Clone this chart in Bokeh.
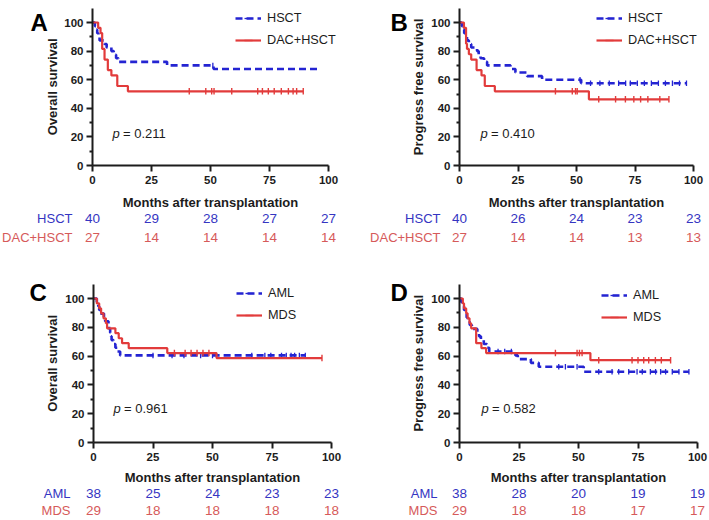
import numpy as np
from bokeh.plotting import figure
from bokeh.layouts import column, row
from bokeh.models import Range1d, FixedTicker, Legend, LegendItem
from bokeh.embed import file_html
from bokeh.resources import INLINE
from bokeh.core.properties import value

# ---------------------------------------------------------------- data
risk_times = [0, 25, 50, 75, 100]
y_ticks = [0, 20, 40, 60, 80, 100]
y_minor = [10, 30, 50, 70, 90]

# A: overall survival, HSCT vs DAC+HSCT
a_hsct_t = [1, 1.5, 2, 2.5, 3, 5, 6, 8, 9, 10, 11, 31.6, 51.3]
a_hsct_s = [97.5, 95, 92.5, 90, 87.5, 85, 82.5, 80, 77.5, 75, 72.5, 70, 67.5]
a_hsct_end = 96
a_hsct_cens = [51.0]
a_dac_t = [2.4, 3.4, 4.1, 5.1, 6.5, 8, 10.5, 15]
a_dac_s = [96.3, 92.6, 81.5, 74.1, 66.7, 63.0, 55.6, 51.9]
a_dac_end = 89.3
a_dac_cens = [41, 48, 50.5, 51.5, 59, 70, 72, 74.5, 77, 80, 83, 85, 86.5, 89.3]
a_hsct_risk = [40, 29, 28, 27, 27]
a_dac_risk = [27, 14, 14, 14, 14]
a_p = "0.211"

# B: progress free survival, HSCT vs DAC+HSCT
b_hsct_t = [1.0, 1.4, 2.0, 2.6, 3.2, 4.0, 5.0, 7.5, 8.2, 9.0, 10.5, 11.8,
            21.8, 23.9, 28.9, 35.3, 52]
b_hsct_s = [97.5, 95, 92.5, 90, 87.5, 85, 82.5, 80, 77.5, 75, 72.5, 70,
            67.5, 65, 62.5, 60, 57.5]
b_hsct_end = 97
b_hsct_cens = [51.5, 56, 60, 64, 68, 71, 73, 76, 79, 82, 85, 88, 91, 94, 97]
b_dac_t = [1.9, 2.8, 3.2, 4.0, 5.0, 7.3, 9.4, 10.8, 15.1, 55.3]
b_dac_s = [96.3, 85.2, 81.5, 77.8, 74.1, 66.7, 63.0, 55.6, 51.9, 46.3]
b_dac_end = 89.5
b_dac_cens = [41, 48.2, 49.6, 50.3, 59.5, 66.7, 70.9, 74.5, 77.4, 80.5, 85.6, 89.5]
b_hsct_risk = [40, 26, 24, 23, 23]
b_dac_risk = [27, 14, 14, 13, 13]
b_p = "0.410"

# C: overall survival, AML vs MDS
c_aml_t = [1.4, 2.0, 2.4, 2.8, 4.4, 4.9, 6.3, 6.6, 7.0, 7.3, 7.6, 8.4, 9.2, 10.0, 11.2]
c_aml_s = [97.4, 94.7, 92.1, 89.5, 86.8, 84.2, 81.6, 78.9, 76.3, 73.7, 71.1,
           68.4, 65.8, 63.2, 60.5]
c_aml_end = 89
c_aml_cens = [25, 33, 38, 45, 50, 66.5, 72, 74.5, 79, 81, 83, 84.5, 86.5, 89]
c_mds_t = [1.4, 2.4, 3.2, 4.2, 5.2, 5.7, 9.2, 10.6, 12, 14.8, 31, 51.7]
c_mds_s = [96.6, 93.1, 89.7, 86.2, 82.8, 79.3, 75.9, 72.4, 69.0, 65.5, 62.1, 58.6]
c_mds_end = 96
c_mds_cens = [34, 38.5, 41, 43.5, 46, 48.5, 96]
c_aml_risk = [38, 25, 24, 23, 23]
c_mds_risk = [29, 18, 18, 18, 18]
c_p = "0.961"

# D: progress free survival, AML vs MDS
d_aml_t = [0.8, 1.4, 1.9, 2.4, 3.0, 3.5, 4.3, 5.2, 7.5, 8.2, 9.0, 10.2, 11.5, 12.5,
           23.5, 24.5, 30, 33.3, 52.2]
d_aml_s = [97.4, 94.7, 92.1, 89.5, 86.8, 84.2, 81.6, 78.9, 76.3, 73.7, 71.1, 68.4,
           65.8, 63.2, 60.5, 57.9, 55.3, 52.6, 49.1]
d_aml_end = 96.4
d_aml_cens = [16.2, 19, 21.8, 41.7, 44.5, 49.4, 58.5, 64.1, 66.9, 71.1, 74.6, 76.8,
              80.2, 82.4, 84.5, 86.6, 89.4, 92.2, 96.4]
d_mds_t = [1.4, 1.9, 2.8, 3.4, 4.2, 4.9, 7, 9.2, 11.2, 55]
d_mds_s = [96.6, 93.1, 89.7, 86.2, 82.8, 79.3, 69.0, 65.5, 62.1, 57.2]
d_mds_end = 88.7
d_mds_cens = [40.3, 49.4, 50.4, 51.5, 58.5, 72.5, 75, 77.4, 79.5, 82.3, 84.8, 88.7]
d_aml_risk = [38, 28, 20, 19, 19]
d_mds_risk = [29, 18, 18, 17, 17]
d_p = "0.582"

x_title = "Months after transplantation"

# ---------------------------------------------------------------- style
FONT = "Liberation Sans"
INK = "#1c1c1c"
BLUE = "#2424d2"
RED = "#e23b3b"
BLUE_TXT = "#3535c2"
RED_TXT = "#d65a5a"
X_END, Y_END = 100, 110


def surv_at(times, surv, t):
    """Value of the Kaplan-Meier step function at time t."""
    s = 100.0
    for ti, si in zip(times, surv):
        if ti <= t:
            s = si
    return s


def group(name, t, s, end, cens, risk, color, txt, dash, lw, tick_size, tick_w):
    return dict(name=name, t=t, s=s, end=end, cens=cens, risk=risk, color=color,
                txt=txt, dash=dash, lw=lw, tick_size=tick_size, tick_w=tick_w)


def blue_group(name, t, s, end, cens, risk):
    return group(name, t, s, end, cens, risk, BLUE, BLUE_TXT, "7 4", 2.6, 5.5, 1.3)


def red_group(name, t, s, end, cens, risk):
    return group(name, t, s, end, cens, risk, RED, RED_TXT, "solid", 2.2, 6.5, 1.4)


def km_panel(spec):
    """One panel: survival curves, axes, legend, p value and number-at-risk rows.

    The plot frame covers the whole panel; the axes sit at x=0 / y=0 so that
    the letter, the axis titles and the risk table live inside the same frame.
    """
    W, H = spec["width"], spec["height"]
    ax0, ax100, ay0, ay100 = spec["axis_px"]   # pixel spots of x=0, x=100, y=0, y=100
    kx = (ax100 - ax0) / 100.0
    ky = (ay0 - ay100) / 100.0

    def dx(px):
        return (px - ax0) / kx

    def dy(py):
        return (ay0 - py) / ky

    p = figure(width=W, height=H, x_range=Range1d(dx(0), dx(W)),
               y_range=Range1d(dy(H), dy(0)), min_border=0, min_border_left=0,
               min_border_right=0, min_border_top=0, min_border_bottom=0,
               output_backend="svg", toolbar_location=None)
    p.outline_line_color = None
    p.grid.visible = False

    xa, ya = p.xaxis[0], p.yaxis[0]
    xa.fixed_location = 0
    ya.fixed_location = 0
    xa.bounds = (0, X_END)
    ya.bounds = (0, Y_END)
    xa.ticker = FixedTicker(ticks=risk_times)
    ya.ticker = FixedTicker(ticks=y_ticks, minor_ticks=y_minor)
    for ax in (xa, ya):
        ax.axis_line_width = 2
        ax.axis_line_color = INK
        ax.major_tick_line_width = 2
        ax.major_tick_line_color = INK
        ax.minor_tick_line_width = 2
        ax.minor_tick_line_color = INK
        ax.major_tick_out = 6
        ax.major_tick_in = 0
        ax.minor_tick_out = 3
        ax.minor_tick_in = 0
        ax.major_label_text_font = FONT
        ax.major_label_text_font_style = "bold"
        ax.major_label_text_font_size = "11.5px"
        ax.major_label_text_color = INK
    xa.major_label_standoff = 4
    ya.major_label_standoff = 3

    # axis titles
    p.text(x=[X_END / 2], y=[dy(spec["xtitle_py"])], text=[x_title], text_align="center",
           text_baseline="middle", text_font=value(FONT), text_font_style="bold",
           text_font_size="13px", text_color=INK)
    p.text(x=[dx(spec["ytitle_px"])], y=[Y_END / 2], text=[spec["ylabel"]], angle=np.pi / 2,
           text_align="center", text_baseline="middle", text_font=value(FONT),
           text_font_style="bold", text_font_size="13px", text_color=INK)

    # survival curves with censor ticks
    items = []
    for g in spec["groups"]:
        xs = [0.0] + g["t"] + [g["end"]]
        ys = [100.0] + g["s"] + [g["s"][-1]]
        line = p.step(xs, ys, mode="after", line_color=g["color"], line_width=g["lw"],
                      line_dash=g["dash"])
        cy = [surv_at(g["t"], g["s"], c) for c in g["cens"]]
        ticks = p.scatter(g["cens"], cy, marker="dash", angle=np.pi / 2, size=g["tick_size"],
                          line_color=g["color"], line_width=g["tick_w"])
        items.append(LegendItem(label=g["name"], renderers=[line, ticks]))

    lx, ly = spec["legend_px"]
    leg = Legend(items=items, location=(lx, H - ly), padding=0, margin=0,
                 spacing=2, glyph_width=26, glyph_height=20, label_height=20,
                 label_standoff=6, label_text_font=FONT, label_text_font_size="12.7px",
                 label_text_color=INK, background_fill_alpha=0, border_line_color=None)
    p.add_layout(leg)

    # log-rank p value
    px_, py_ = spec["p_px"]
    p.text(x=[dx(px_)], y=[dy(py_)], text=["p"], text_font=value(FONT),
           text_font_style="italic", text_font_size="13px", text_baseline="middle",
           text_color=INK)
    p.text(x=[dx(px_)], y=[dy(py_)], text=["= " + spec["pval"]], x_offset=10.5,
           text_font=value(FONT), text_font_size="13px", text_baseline="middle",
           text_color=INK)

    # panel letter
    lpx, lpy = spec["letter_px"]
    p.text(x=[dx(lpx)], y=[dy(lpy)], text=[spec["letter"]], text_font=value(FONT),
           text_font_style="bold", text_font_size="24px", text_color="black",
           text_baseline="alphabetic")

    # number-at-risk rows under the time axis
    for g, ry in zip(spec["groups"], spec["rows_py"]):
        yy = dy(ry)
        p.text(x=[dx(spec["label_right_px"])], y=[yy], text=[g["name"]], text_align="right",
               text_baseline="middle", text_font=value(FONT), text_font_size="13px",
               text_color=g["txt"])
        p.text(x=risk_times, y=[yy] * len(risk_times), text=[str(n) for n in g["risk"]],
               text_align="center", text_baseline="middle", text_font=value(FONT),
               text_font_size="13.5px", text_color=g["txt"])
    return p


panels = [
    dict(letter="A", ylabel="Overall survival", pval=a_p, width=355, height=260,
         axis_px=(92, 328, 165, 22), xtitle_py=202, ytitle_px=52,
         legend_px=(235, 50), p_px=(112, 133), letter_px=(30, 22),
         rows_py=(218, 237), label_right_px=72,
         groups=[blue_group("HSCT", a_hsct_t, a_hsct_s, a_hsct_end, a_hsct_cens, a_hsct_risk),
                 red_group("DAC+HSCT", a_dac_t, a_dac_s, a_dac_end, a_dac_cens, a_dac_risk)]),
    dict(letter="B", ylabel="Progress free survival", pval=b_p, width=354, height=260,
         axis_px=(104, 338, 165, 22), xtitle_py=202, ytitle_px=63,
         legend_px=(241, 50), p_px=(125, 133), letter_px=(35, 22),
         rows_py=(218, 237), label_right_px=85,
         groups=[blue_group("HSCT", b_hsct_t, b_hsct_s, b_hsct_end, b_hsct_cens, b_hsct_risk),
                 red_group("DAC+HSCT", b_dac_t, b_dac_s, b_dac_end, b_dac_cens, b_dac_risk)]),
    dict(letter="C", ylabel="Overall survival", pval=c_p, width=355, height=260,
         axis_px=(93, 331, 182, 38), xtitle_py=217, ytitle_px=52,
         legend_px=(236, 65), p_px=(113, 148), letter_px=(29, 32),
         rows_py=(233, 250), label_right_px=70,
         groups=[blue_group("AML", c_aml_t, c_aml_s, c_aml_end, c_aml_cens, c_aml_risk),
                 red_group("MDS", c_mds_t, c_mds_s, c_mds_end, c_mds_cens, c_mds_risk)]),
    dict(letter="D", ylabel="Progress free survival", pval=d_p, width=354, height=260,
         axis_px=(104, 342, 182, 38), xtitle_py=217, ytitle_px=63,
         legend_px=(246, 67), p_px=(126, 148), letter_px=(35, 32),
         rows_py=(233, 250), label_right_px=82,
         groups=[blue_group("AML", d_aml_t, d_aml_s, d_aml_end, d_aml_cens, d_aml_risk),
                 red_group("MDS", d_mds_t, d_mds_s, d_mds_end, d_mds_cens, d_mds_risk)]),
]

figs = [km_panel(s) for s in panels]
layout = column(row(figs[0], figs[1]), row(figs[2], figs[3]))

open("out.html", "w").write(file_html(layout, INLINE))
